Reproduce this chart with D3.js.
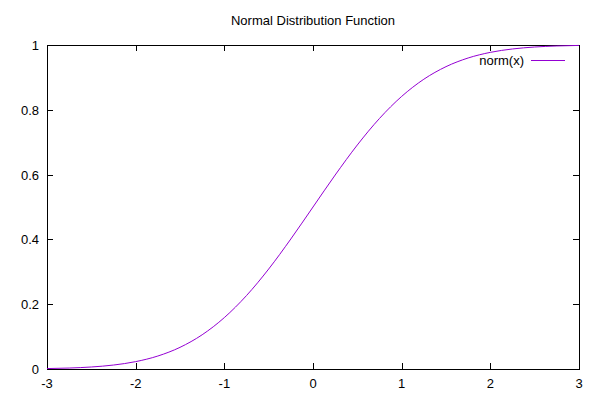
<!DOCTYPE html>
<html><head><meta charset="utf-8">
<script src="https://cdn.jsdelivr.net/npm/d3@7"></script>
<style>body{margin:0;background:#fff}svg text{font-family:"Liberation Sans",Arial,sans-serif;font-size:13px;fill:#000}</style>
</head><body><svg id="c" width="600" height="400"></svg>
<script>
const xValues = [-3,-2.75,-2.5,-2.25,-2,-1.75,-1.5,-1.25,-1,-0.75,-0.5,-0.25,0,0.25,0.5,0.75,1,1.25,1.5,1.75,2,2.25,2.5,2.75,3];
const normValues = [0.00135,0.00298,0.00621,0.01222,0.02275,0.04006,0.06681,0.10565,0.15866,0.22663,0.30854,0.40129,0.5,0.59871,0.69146,0.77337,0.84134,0.89435,0.93319,0.95994,0.97725,0.98778,0.99379,0.99702,0.99865];
const xTicks = [-3,-2,-1,0,1,2,3];
const yTicks = [0,0.2,0.4,0.6,0.8,1];
const titleText = "Normal Distribution Function";
const seriesName = "norm(x)";

const svg = d3.select("#c");
const L=47,R=579,T=45,B=369;
const x = d3.scaleLinear().domain([-3,3]).range([L,R]);
const y = d3.scaleLinear().domain([0,1]).range([B,T]);
const tl=6;

svg.append("text").attr("x",(L+R)/2).attr("y",25).attr("text-anchor","middle").text(titleText);

const g = svg.append("g").attr("stroke","#000").attr("stroke-width",1).attr("shape-rendering","crispEdges");
xTicks.forEach(t=>{
  const px=Math.round(x(t))+0.5;
  g.append("line").attr("x1",px).attr("x2",px).attr("y1",B).attr("y2",B-tl);
  g.append("line").attr("x1",px).attr("x2",px).attr("y1",T).attr("y2",T+tl);
});
yTicks.forEach(t=>{
  const py=Math.round(y(t))+0.5;
  g.append("line").attr("x1",L).attr("x2",L+tl).attr("y1",py).attr("y2",py);
  g.append("line").attr("x1",R).attr("x2",R-tl).attr("y1",py).attr("y2",py);
});
g.append("rect").attr("x",L+0.5).attr("y",T+0.5).attr("width",R-L).attr("height",B-T).attr("fill","none");

xTicks.forEach(t=>{
  svg.append("text").attr("x",x(t)).attr("y",B+19).attr("text-anchor","middle").text(d3.format("")(t).replace("−","-"));
});
yTicks.forEach(t=>{
  svg.append("text").attr("x",L-8).attr("y",y(t)+5).attr("text-anchor","end").text(String(t));
});

const line = d3.line().x((d,i)=>x(xValues[i])).y(d=>y(d)).curve(d3.curveMonotoneX);
svg.append("path").datum(normValues).attr("d",line).attr("fill","none").attr("stroke","#9400d3").attr("stroke-width",1);

svg.append("text").attr("x",524).attr("y",65).attr("text-anchor","end").text(seriesName);
svg.append("line").attr("x1",531).attr("x2",565).attr("y1",60.5).attr("y2",60.5).attr("stroke","#9400d3").attr("stroke-width",1);
</script></body></html>
